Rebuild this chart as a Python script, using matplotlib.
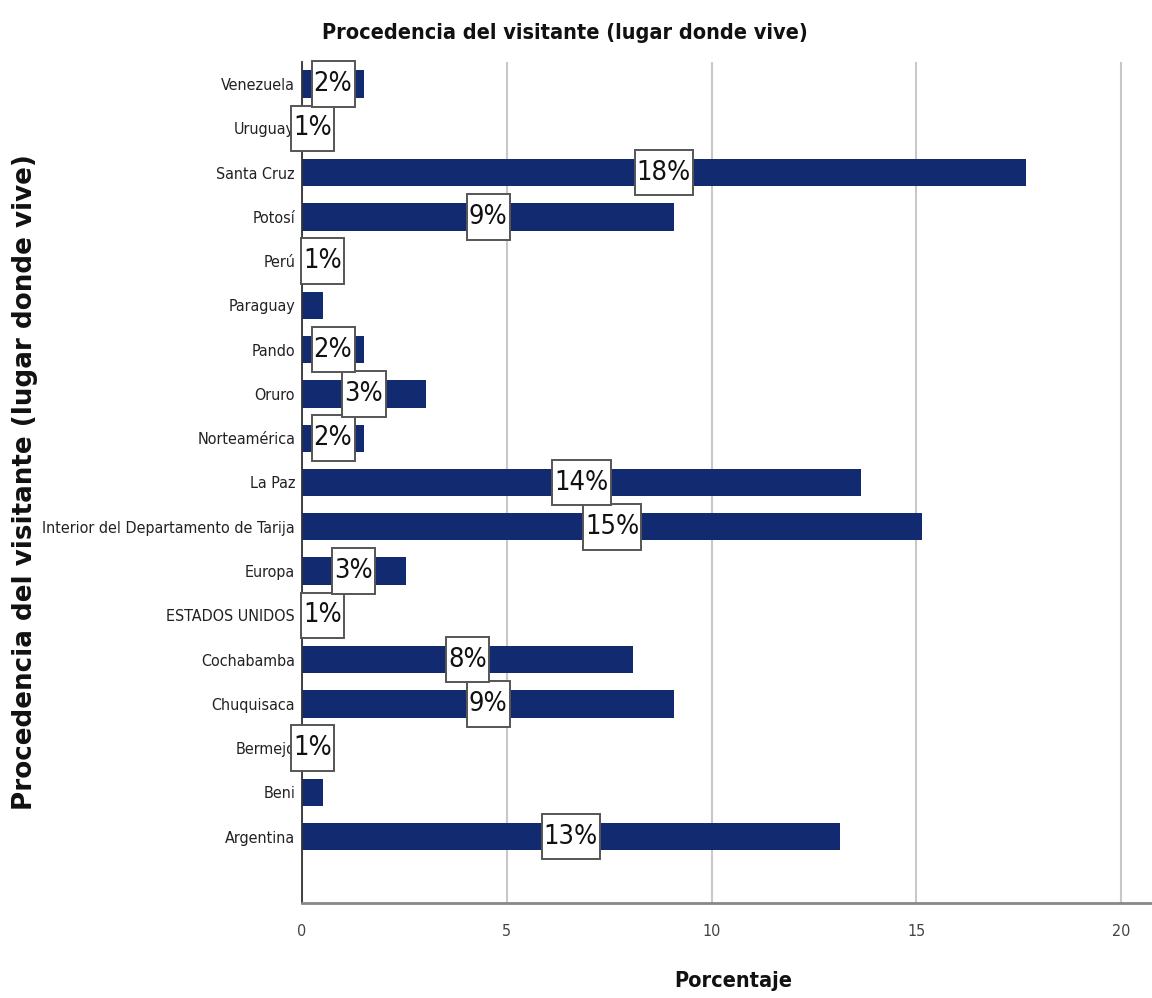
import matplotlib
matplotlib.use("Agg")
import os
import matplotlib.pyplot as plt
from matplotlib import font_manager
from matplotlib.font_manager import FontProperties
from matplotlib.path import Path

# Place of residence of visitors (percent of respondents)
categories = [
    "Argentina", "Beni", "Bermejo", "Chuquisaca", "Cochabamba",
    "ESTADOS UNIDOS", "Europa", "Interior del Departamento de Tarija",
    "La Paz", "Norteamérica", "Oruro", "Pando", "Paraguay", "Perú",
    "Potosí", "Santa Cruz", "Uruguay", "Venezuela",
]
percent = [
    13.13, 0.51, 0.51, 9.09, 8.08,
    1.01, 2.53, 15.15,
    13.64, 1.52, 3.03, 1.52, 0.51, 1.01,
    9.09, 17.68, 0.51, 1.52,
]
show_label = [
    True, False, True, True, True,
    True, True, True,
    True, True, True, True, False, True,
    True, True, True, True,
]
x_ticks = [0, 5, 10, 15, 20]


def font_file(*names):
    files = {os.path.basename(f.fname): f.fname for f in font_manager.fontManager.ttflist}
    for n in names:
        if n in files:
            return files[n]
    return None


def fprops(size, files, weight="normal"):
    path = font_file(*files)
    if path:
        return FontProperties(fname=path, size=size)
    return FontProperties(family="DejaVu Sans", size=size, weight=weight)


def tall_box(x0, y0, width, height, mutation_size):
    # rectangle with little side padding and generous top/bottom padding
    px = 0.08 * mutation_size
    py = 0.36 * mutation_size
    x0, x1 = x0 - px, x0 + width + px
    y0, y1 = y0 - py, y0 + height + py
    return Path([(x0, y0), (x1, y0), (x1, y1), (x0, y1), (x0, y0)], closed=True)


narrow_reg = ["LiberationSansNarrow-Regular.ttf", "DejaVuSansCondensed.ttf"]
narrow_bold = ["LiberationSansNarrow-Bold.ttf", "DejaVuSansCondensed-Bold.ttf"]
wide_bold = ["DejaVuSans-Bold.ttf", "LiberationSans-Bold.ttf"]

BAR_COLOR = "#112a70"

fig = plt.figure(figsize=(11.52, 9.98), dpi=100)
ax = fig.add_axes([302 / 1152, 1 - 903 / 998, 1 - 302 / 1152, (903 - 62) / 998])

ypos = list(range(len(categories)))
ax.barh(ypos, percent, height=0.62, color=BAR_COLOR, zorder=2)

label_font = fprops(19.5, narrow_reg)
for y, v, lab in zip(ypos, percent, show_label):
    if not lab:
        continue
    ax.text(v / 2, y, f"{v:.0f}%", ha="center", va="center",
            fontproperties=label_font, color="#111111", zorder=5,
            clip_on=False,
            bbox=dict(boxstyle=tall_box, facecolor="white",
                      edgecolor="#555555", linewidth=1.4))

ax.set_xlim(0, (1152 - 302) / 40.95)
ax.set_ylim(-1.5, len(categories) - 0.5)

tick_font = fprops(11.5, narrow_reg)
ax.set_xticks(x_ticks)
ax.set_xticklabels([str(t) for t in x_ticks], fontproperties=tick_font,
                   color="#444444")
ax.set_yticks(ypos)
ax.set_yticklabels(categories, fontproperties=tick_font, color="#222222")
ax.tick_params(axis="both", length=0)
ax.tick_params(axis="y", pad=5)
ax.tick_params(axis="x", pad=15)

ax.grid(axis="x", color="#c8c8c8", linewidth=1.5, zorder=0)
ax.set_axisbelow(True)
for side in ("top", "right"):
    ax.spines[side].set_visible(False)
ax.spines["left"].set_color("#333333")
ax.spines["left"].set_linewidth(1.3)
ax.spines["bottom"].set_color("#888888")
ax.spines["bottom"].set_linewidth(2.0)

fig.text(565 / 1152, 1 - 33 / 998, "Procedencia del visitante (lugar donde vive)",
         ha="center", va="center", fontproperties=fprops(15.6, narrow_bold, "bold"),
         color="#111111")
fig.text(733 / 1152, 1 - 981 / 998, "Porcentaje", ha="center", va="center",
         fontproperties=fprops(15.6, narrow_bold, "bold"), color="#111111")
fig.text(25 / 1152, 1 - 482 / 998, "Procedencia del visitante (lugar donde vive)",
         ha="center", va="center", rotation=90,
         fontproperties=fprops(18.8, wide_bold, "bold"), color="#111111")

fig.savefig("out.png", dpi=100, facecolor="white")
